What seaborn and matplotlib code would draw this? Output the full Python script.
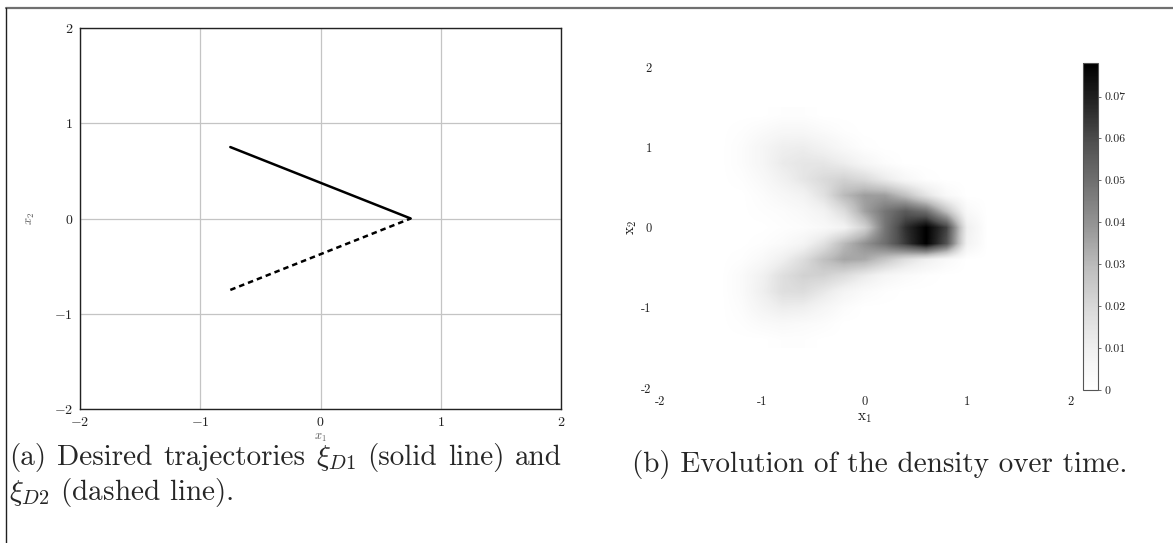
import numpy as np
import pandas as pd
import matplotlib
matplotlib.use("Agg")
import matplotlib.pyplot as plt
from matplotlib.lines import Line2D
from matplotlib.ticker import FuncFormatter
import seaborn as sns

# desired trajectories (a)
traj1_x1 = [-0.75, 0.75]
traj1_x2 = [0.75, 0.0]
traj2_x1 = [-0.75, 0.75]
traj2_x2 = [-0.75, 0.0]

# density grid (b), values x 0.001
dens_x1 = [-1.4, -1.2, -1.0, -0.8, -0.6, -0.4, -0.2, 0.0, 0.2, 0.4, 0.6, 0.8, 1.0, 1.2]
dens_x2 = [1.4, 1.2, 1.0, 0.8, 0.6, 0.4, 0.2, 0.0, -0.2, -0.4, -0.6, -0.8, -1.0, -1.2, -1.4]
dens_vals = [
    [0, 0, 0, 1, 1, 0, 0, 0, 0, 0, 0, 0, 0, 0],
    [0, 1, 3, 5, 5, 3, 1, 0, 0, 0, 0, 0, 0, 0],
    [0, 2, 6, 10, 11, 8, 4, 1, 0, 0, 0, 0, 0, 0],
    [0, 2, 6, 12, 14, 14, 11, 6, 2, 0, 0, 0, 0, 0],
    [0, 1, 4, 9, 14, 19, 22, 19, 12, 5, 1, 0, 0, 0],
    [0, 0, 2, 5, 8, 16, 30, 37, 37, 28, 15, 4, 0, 0],
    [0, 0, 1, 2, 4, 8, 18, 36, 48, 56, 50, 28, 4, 0],
    [0, 0, 0, 1, 2, 4, 8, 22, 48, 66, 78, 62, 10, 0],
    [0, 0, 1, 3, 7, 16, 30, 40, 50, 64, 78, 58, 8, 0],
    [0, 1, 4, 10, 18, 28, 35, 34, 26, 17, 10, 4, 0, 0],
    [0, 3, 9, 17, 22, 22, 18, 12, 6, 3, 1, 0, 0, 0],
    [0, 3, 10, 17, 18, 13, 7, 3, 1, 0, 0, 0, 0, 0],
    [0, 2, 7, 11, 10, 6, 2, 0, 0, 0, 0, 0, 0, 0],
    [0, 1, 3, 4, 3, 2, 0, 0, 0, 0, 0, 0, 0, 0],
    [0, 0, 0, 1, 1, 0, 0, 0, 0, 0, 0, 0, 0, 0],
]
cbar_ticks = [0, 0.01, 0.02, 0.03, 0.04, 0.05, 0.06, 0.07]
axis_ticks = [-2, -1, 0, 1, 2]

sns.set_theme(style="whitegrid")
plt.rcParams["font.family"] = ["cmr10", "DejaVu Serif"]
plt.rcParams["mathtext.fontset"] = "cm"
plt.rcParams["axes.unicode_minus"] = False
plt.rcParams["axes.formatter.use_mathtext"] = True

W, H = 1173, 543
fig = plt.figure(figsize=(W / 100, H / 100), dpi=100)
fig.patch.set_facecolor("white")


def box(x0, y0, x1, y1):
    return [x0 / W, 1 - y1 / H, (x1 - x0) / W, (y1 - y0) / H]


# ---- panel (a)
ax1 = fig.add_axes(box(80, 28, 561, 409))
df1 = pd.DataFrame({"x1": traj1_x1, "x2": traj1_x2})
df2 = pd.DataFrame({"x1": traj2_x1, "x2": traj2_x2})
sns.lineplot(data=df1, x="x1", y="x2", ax=ax1, color="black", lw=1.8, sort=False)
sns.lineplot(data=df2, x="x1", y="x2", ax=ax1, color="black", lw=1.8, sort=False,
             linestyle=(0, (2.2, 1.6)))
ax1.set_xlim(-2, 2)
ax1.set_ylim(-2, 2)
ax1.set_xticks(axis_ticks)
ax1.set_yticks(axis_ticks)
ax1.set_facecolor("white")
ax1.grid(True, color="#c4c4c4", lw=0.9)
for s in ax1.spines.values():
    s.set_color("#222222")
    s.set_linewidth(1.0)
fmt = FuncFormatter(lambda v, p: "$%d$" % v if v >= 0 else "$-%d$" % (-v))
ax1.xaxis.set_major_formatter(fmt)
ax1.yaxis.set_major_formatter(fmt)
ax1.tick_params(axis="both", labelsize=10, length=3, width=0.8, color="#222222",
                direction="out", pad=2, labelcolor="#222222")
ax1.set_xlabel("$x_1$", fontsize=9, color="#555555", labelpad=2)
ax1.set_ylabel("$x_2$", fontsize=9, color="#555555", labelpad=12)

# ---- panel (b)
ax2 = fig.add_axes(box(660, 67, 1070, 388))
vals = np.array(dens_vals) / 1000.0
step = 0.2
ext = [dens_x1[0] - step / 2, dens_x1[-1] + step / 2,
       dens_x2[-1] - step / 2, dens_x2[0] + step / 2]
im = ax2.imshow(vals, cmap="Greys", vmin=0, vmax=0.078, extent=ext,
                interpolation="bilinear", origin="upper", aspect="auto")
ax2.set_xlim(-2, 2)
ax2.set_ylim(-2, 2)
ax2.set_xticks(axis_ticks)
ax2.set_yticks(axis_ticks)
ax2.set_xticklabels([str(t) for t in axis_ticks])
ax2.set_yticklabels([str(t) for t in axis_ticks])
ax2.grid(False)
ax2.set_facecolor("white")
for s in ax2.spines.values():
    s.set_visible(False)
ax2.tick_params(axis="both", length=0, labelsize=9, labelcolor="#222222", pad=6)
ax2.set_xlabel(r"$\mathrm{x}_1$", fontsize=11, color="#222222", labelpad=2)
ax2.set_ylabel(r"$\mathrm{x}_2$", fontsize=11, color="#222222", labelpad=2)

cax = fig.add_axes(box(1083, 63, 1098, 390))
cb = fig.colorbar(im, cax=cax, ticks=cbar_ticks)
cb.ax.set_yticklabels(["0"] + ["%.2f" % t for t in cbar_ticks[1:]])
cb.outline.set_edgecolor("#555555")
cb.outline.set_linewidth(0.8)
cax.tick_params(labelsize=8.5, length=2, width=0.6, color="#555555", labelcolor="#222222", pad=3)

# ---- page frame and captions
fig.add_artist(Line2D([6 / W, 1], [1 - 8 / H, 1 - 8 / H], transform=fig.transFigure,
                      color="#707070", lw=1.6))
fig.add_artist(Line2D([6 / W, 6 / W], [0, 1 - 8 / H], transform=fig.transFigure,
                      color="#202020", lw=1.0))

cap_size = 21
# first caption line is justified between the panel edges, like the LaTeX layout
words = ["(a)", "Desired", "trajectories", r"$\xi_{D1}$", "(solid", "line)", "and"]
renderer = fig.canvas.get_renderer()
items = [fig.text(0, 1 - 465 / H, w, fontsize=cap_size, ha="left", va="baseline") for w in words]
widths = [t.get_window_extent(renderer).width for t in items]
x_left, x_right = 9, 562
gap = (x_right - x_left - sum(widths)) / (len(words) - 1)
x = x_left
for t, w in zip(items, widths):
    t.set_x(x / W)
    x += w + gap
fig.text(9 / W, 1 - 500 / H, r"$\xi_{D2}$ (dashed line).",
         fontsize=cap_size, ha="left", va="baseline")
fig.text(880 / W, 1 - 472 / H, "(b) Evolution of the density over time.",
         fontsize=cap_size, ha="center", va="baseline")

fig.savefig("out.png", dpi=100)
